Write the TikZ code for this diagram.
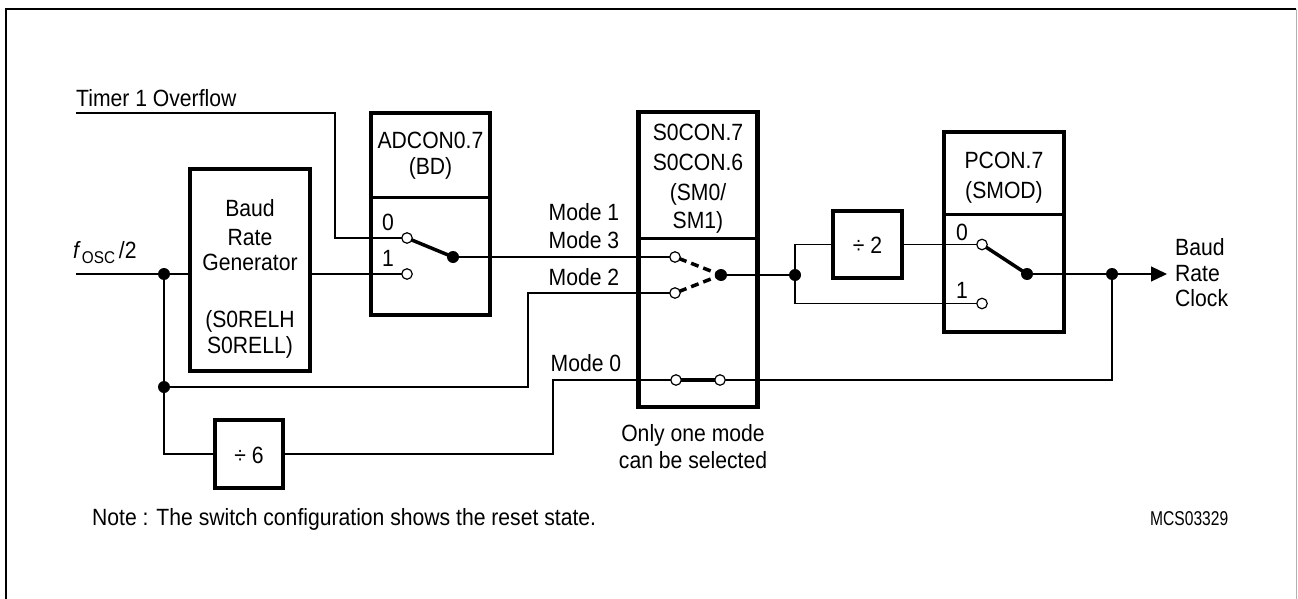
\documentclass[tikz,border=0pt]{standalone}
\usepackage{fontspec}
\setmainfont{Liberation Sans}[FakeStretch=0.9]
\newfontfamily\mcsfont{Liberation Sans}[FakeStretch=0.78]
\usetikzlibrary{arrows.meta,calc}
\begin{document}
\tikzset{
  wire/.style={line width=1.2pt},
  box/.style={draw, line width=4.5pt, inner sep=0pt},
  divider/.style={line width=3pt},
  lever/.style={line width=3.5pt},
  dlever/.style={line width=3.5pt, dash pattern=on 8pt off 5pt},
  ocirc/.style={circle, draw, line width=1.2pt, fill=white, minimum size=10.5pt, inner sep=0pt},
  jdot/.style={circle, fill=black, minimum size=12pt, inner sep=0pt},
  lbl/.style={font=\fontsize{23.5}{26}\selectfont, inner sep=0pt, anchor=base},
  lblw/.style={lbl, anchor=base west},
}
\begin{tikzpicture}[x=1pt,y=-1pt]
\useasboundingbox (0,0) rectangle (1298,599);
% frame
\draw[line width=2.5pt] (6,599) -- (6,9) -- (1296,9);
\draw[line width=1pt, black!30] (1296.5,9) -- (1296.5,599);

% boxes
\node[box, minimum width=120pt, minimum height=202pt] (brg) at (250,270) {};
\node[box, minimum width=119pt, minimum height=202pt] (adcon) at (430.5,214) {};
\node[box, minimum width=119pt, minimum height=295pt] (s0con) at (698,259.5) {};
\node[box, minimum width=120pt, minimum height=200pt] (pcon) at (1004,232) {};
\node[box, minimum width=69pt, minimum height=67pt] (div2) at (867.5,244.5) {};
\node[box, minimum width=68pt, minimum height=68pt] (div6) at (249,454) {};
\draw[divider] (371,197) -- (490,197);
\draw[divider] (638.5,238) -- (757.5,238);
\draw[divider] (944,214) -- (1064,214);

% coordinates
\coordinate (tstart) at (76,113);
\coordinate (tbend) at (335,113);
\coordinate (fstart) at (76,274);
\coordinate (m2b) at (528,293);
\coordinate (m0c) at (553,454);
\coordinate (arrtip) at (1167,274);

% wires (behind switch contacts)
\draw[wire] (tstart) -- (tbend) |- (407,238);
\draw[wire] (fstart) -- (brg.west |- fstart);
\draw[wire] (brg.east |- fstart) -- (407,274);
\draw[wire] (453,257) -- (675,257);
\draw[wire] (675,293) -- (m2b) |- (164,387);
\draw[wire] (164,274) -- (164,387) |- (div6.west);
\draw[wire] (div6.east) -- (m0c) |- (676,380);
\draw[wire] (720,380) -| (1112,274);
\draw[wire] (721,275) -- (795,275);
\draw[wire] (795,275) |- (div2.west);
\draw[wire] (div2.east) -- (982,244.5);
\draw[wire] (795,275) |- (982,303.5);
\draw[wire] (1027,274) -- (1112,274);
\draw[wire, -{Triangle[length=16pt,width=15pt]}] (1112,274) -- (arrtip);

% levers
\draw[lever] (407,238) -- (453,257);
\draw[dlever] (679,258.5) -- (721,275);
\draw[dlever] (679,291.5) -- (721,275);
\draw[lever] (676,380) -- (720,380);
\draw[lever] (982,244.5) -- (1027,274);

% contacts
\node[ocirc] (a0) at (407,238) {};
\node[ocirc] (a1) at (407,274) {};
\node[ocirc] (s1) at (675,257) {};
\node[ocirc] (s2) at (675,293) {};
\node[ocirc] (m0a) at (676,380) {};
\node[ocirc] (m0b) at (720,380) {};
\node[ocirc] (p0) at (982,244.5) {};
\node[ocirc] (p1) at (982,303.5) {};
\node[jdot] (jf) at (164,274) {};
\node[jdot] (jm) at (164,387) {};
\node[jdot] (apiv) at (453,257) {};
\node[jdot] (spiv) at (721,275) {};
\node[jdot] (jj) at (795,275) {};
\node[jdot] (ppiv) at (1027,274) {};
\node[jdot] (jo) at (1112,274) {};

% labels
\node[lblw] (ttimer) at (76,106.7) {Timer 1 Overflow};
\node[lblw] (tfosc) at (73,258) {{\itshape f}\raisebox{-5pt}{\fontsize{17}{17}\selectfont\,OSC}\,/2};
\node[lbl] (tb1) at (250,216.7) {Baud};
\node[lbl] (tb2) at (250,245) {Rate};
\node[lbl] (tb3) at (250,270) {Generator};
\node[lbl] (tb4) at (250,327) {(S0RELH};
\node[lbl] (tb5) at (250,353) {S0RELL)};
\node[lbl] (ta1) at (430.5,148.3) {ADCON0.7};
\node[lbl] (ta2) at (430.5,175) {(BD)};
\node[lbl] (ts1) at (698,140) {S0CON.7};
\node[lbl] (ts2) at (698,170) {S0CON.6};
\node[lbl] (ts3) at (698,200) {(SM0/};
\node[lbl] (ts4) at (698,228) {SM1)};
\node[lbl] (tp1) at (1004,168.3) {PCON.7};
\node[lbl] (tp2) at (1004,198.3) {(SMOD)};
\node[lbl] (ta0) at (388,230) {0};
\node[lbl] (ta1b) at (388,266.7) {1};
\node[lbl] (tp0) at (962,240) {0};
\node[lbl] (tp1b) at (962,298.3) {1};
\node[lbl] (tm1) at (584,220) {Mode 1};
\node[lbl] (tm3) at (584,248.3) {Mode 3};
\node[lbl] (tm2) at (584,285) {Mode 2};
\node[lbl] (tm0) at (586,371) {Mode 0};
\node[lbl] (to1) at (693,441.7) {Only one mode};
\node[lbl] (to2) at (693,468.3) {can be selected};
\node[lbl] (td2) at (867.5,253.3) {÷ 2};
\node[lbl] (td6) at (249,463.3) {÷ 6};
\node[lblw] (tc1) at (1175,255) {Baud};
\node[lblw] (tc2) at (1175,281.7) {Rate};
\node[lblw] (tc3) at (1175,306.7) {Clock};
\node[lblw] (tnote) at (92,525) {Note : The switch configuration shows the reset state.};
\node[anchor=base west, inner sep=0pt, font=\mcsfont\fontsize{20}{20}\selectfont] (tmcs) at (1150,525) {MCS03329};
\end{tikzpicture}
\end{document}
